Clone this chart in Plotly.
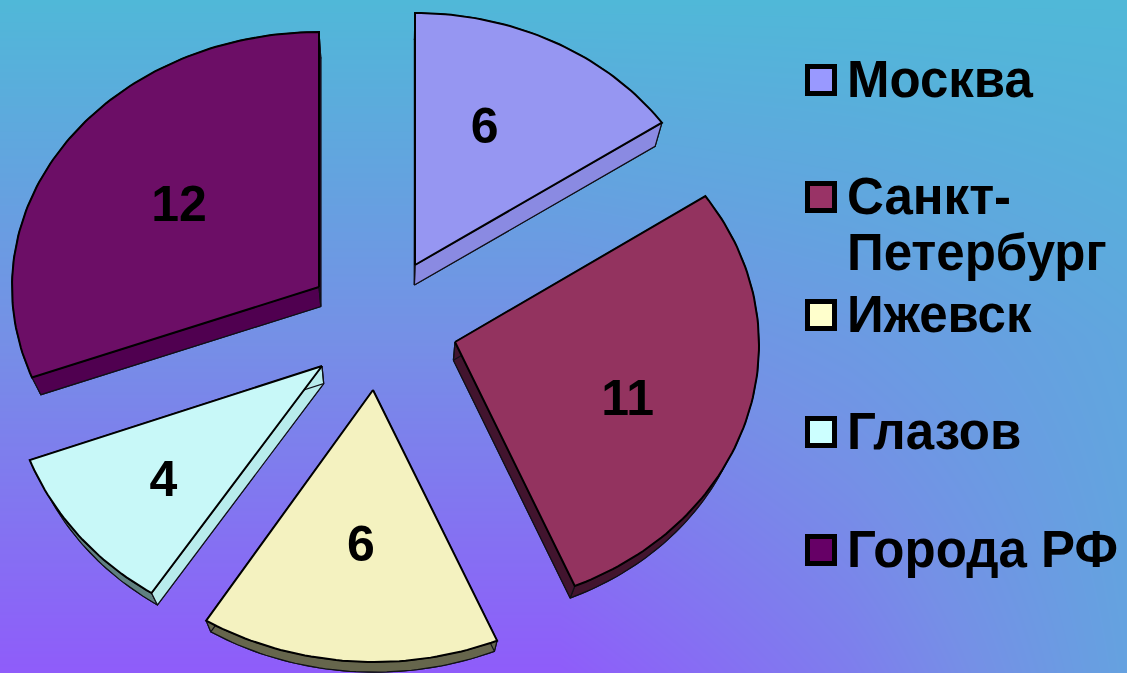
import math
import plotly.graph_objects as go

# --- data ---
categories = ["Москва", "Санкт-<br>Петербург", "Ижевск", "Глазов", "Города РФ"]
values = [6, 11, 6, 4, 12]

# --- styles ---
top_colors = ["#9696f2", "#93335f", "#f4f2c0", "#c8f8f8", "#6c0e66"]
legend_colors = ["#9999ff", "#993366", "#ffffcc", "#ccffff", "#660066"]
radial_colors = ["#8a8ae2", "#42142e", "#66664c", "#b8ecec", "#500050"]
arc_colors = ["#8a8ae2", "#42142e", "#66664c", "#5f8080", "#500050"]

# --- exploded, perspective layout of each slice (pixel-scaled axes) ---
apex_x = [415, 455, 373, 322, 319]
apex_y = [265, 342, 390, 366, 287]
center_x = [415, 456, 374, 314, 319]
center_y = [267, 345, 395, 364, 287]
radius_x = [300, 303, 314, 304, 307]
radius_y = [254, 262, 267, 271, 255]
label_frac_x = [0.50, 0.59, 0.52, 0.64, 0.554]
label_frac_y = [0.627, 0.73, 0.56, 0.67, 0.573]
label_shift = 4.5
vanish_x = 390
shrink = 0.975
drop = 26.7
legend_x = 821
legend_text_x = 847
legend_y = [80, 197, 315, 432, 550]
legend_line_gap = 56

# --- backdrop gradient stops ---
bg_x = [0, 560, 850, 1127]
bg_y = [0, 336, 673]
bg_level = [[0.0, 0.0, 0.0, 0.0], [0.5, 0.5, 0.38, 0.22], [1.0, 1.0, 0.68, 0.28]]

W, H = 1127, 673
font = "Liberation Sans, Arial, sans-serif"


def under_x(x):
    return vanish_x + (x - vanish_x) * shrink


def under_y(y):
    return y * shrink + drop


fig = go.Figure()

# gradient backdrop
fig.add_trace(go.Heatmap(
    x=bg_x, y=bg_y, z=bg_level,
    zmin=0, zmax=1, zsmooth="best", showscale=False, hoverinfo="skip",
    colorscale=[[0, "#50b8d8"], [0.5, "#7590e6"], [1, "#8f5cfa"]],
))

total = sum(values)
start = 0.0
for i, v in enumerate(values):
    end = start + v / total * 2 * math.pi
    n = max(8, int(v * 8))
    ts = [start + (end - start) * k / n for k in range(n + 1)]
    ax = [center_x[i] + radius_x[i] * math.sin(t) for t in ts]
    ay = [center_y[i] - radius_y[i] * math.cos(t) for t in ts]
    ux = [under_x(x) for x in ax]
    uy = [under_y(y) for y in ay]
    pax, pay = under_x(apex_x[i]), under_y(apex_y[i])
    name = categories[i].replace("<br>", "")

    # underside (visible as the extruded rim of the arc)
    fig.add_trace(go.Scatter(
        x=[pax] + ux + [pax], y=[pay] + uy + [pay],
        mode="lines", fill="toself", fillcolor=arc_colors[i],
        line=dict(color="#101018", width=1.2), hoverinfo="skip", showlegend=False))
    # rim between the top arc and the underside
    fig.add_trace(go.Scatter(
        x=ax + ux[::-1] + [ax[0]], y=ay + uy[::-1] + [ay[0]],
        mode="lines", fill="toself", fillcolor=arc_colors[i],
        line=dict(color="#101018", width=1.2), hoverinfo="skip", showlegend=False))
    # the two radial cut faces
    fx, fy = [], []
    for px, py, qx, qy in ((ax[0], ay[0], ux[0], uy[0]), (ax[-1], ay[-1], ux[-1], uy[-1])):
        fx += [apex_x[i], px, qx, pax, apex_x[i], None]
        fy += [apex_y[i], py, qy, pay, apex_y[i], None]
    fig.add_trace(go.Scatter(
        x=fx, y=fy, mode="lines", fill="toself", fillcolor=radial_colors[i],
        line=dict(color="#101018", width=1.2), hoverinfo="skip", showlegend=False))
    # top face
    fig.add_trace(go.Scatter(
        x=[apex_x[i]] + ax + [apex_x[i]],
        y=[apex_y[i]] + ay + [apex_y[i]],
        mode="lines", fill="toself", fillcolor=top_colors[i],
        line=dict(color="#000000", width=2), name=name,
        hovertemplate=name + ": " + str(v) + "<extra></extra>", showlegend=False))
    # value label
    mid = (start + end) / 2
    fig.add_trace(go.Scatter(
        x=[center_x[i] + label_frac_x[i] * radius_x[i] * math.sin(mid)],
        y=[center_y[i] - label_frac_y[i] * radius_y[i] * math.cos(mid) + label_shift],
        mode="text", text=[str(v)], textposition="middle center",
        textfont=dict(family=font, size=50, color="#000000"),
        texttemplate="<b>%{text}</b>", hoverinfo="skip", showlegend=False))
    start = end

# legend swatches
fig.add_trace(go.Scatter(
    x=[legend_x] * len(categories), y=legend_y, mode="markers",
    marker=dict(symbol="square", size=27, color=legend_colors,
                line=dict(color="#000000", width=5)),
    hoverinfo="skip", showlegend=False))

# legend texts, one annotation per line so the line gap is exact
for i, cat in enumerate(categories):
    for j, line in enumerate(cat.split("<br>")):
        fig.add_annotation(
            x=legend_text_x, y=legend_y[i] + j * legend_line_gap, xref="x", yref="y",
            text="<b>" + line + "</b>", showarrow=False, xanchor="left", yanchor="middle",
            xshift=-2, yshift=1, font=dict(family=font, size=51, color="#000000"))

fig.update_layout(
    width=W, height=H, margin=dict(l=0, r=0, t=0, b=0),
    paper_bgcolor="#7590e6", plot_bgcolor="rgba(0,0,0,0)", showlegend=False,
    xaxis=dict(range=[0, W], visible=False, fixedrange=True),
    yaxis=dict(range=[H, 0], visible=False, fixedrange=True),
)
fig.write_html(
    "out.html", config={"displayModeBar": False},
    post_script="document.body.style.margin='0';document.body.style.overflow='hidden';",
)
